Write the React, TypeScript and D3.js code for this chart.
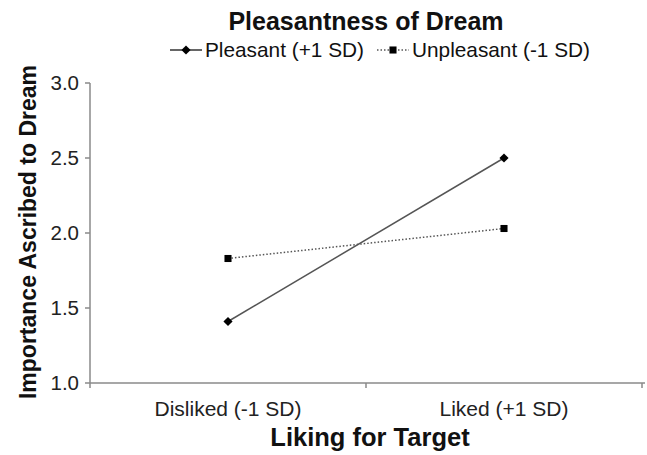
import * as d3 from "d3";

// categories on the x axis
const categories = ["Disliked (-1 SD)", "Liked (+1 SD)"];
// series values (importance ascribed to dream)
const pleasant = [1.41, 2.5];
const unpleasant = [1.83, 2.03];
const yTicks = [1.0, 1.5, 2.0, 2.5, 3.0];
const seriesNames = ["Pleasant (+1 SD)", "Unpleasant (-1 SD)"];

const W = 647;
const H = 455;
const FONT = "Liberation Sans, Arial, Helvetica, sans-serif";
const AXIS = "#8a8a8a";

const App = () => {
  const x = d3.scaleBand<string>().domain(categories).range([90, 642]).padding(0);
  const y = d3.scaleLinear().domain([1, 3]).range([383, 83]);
  const cx = (c: string) => (x(c) ?? 0) + x.bandwidth() / 2;

  const line = d3
    .line<number>()
    .x((_, i) => cx(categories[i]))
    .y((d) => y(d));

  // diamond = square turned 45 degrees (d3's diamond is too tall)
  const diamond = d3.symbol(d3.symbolSquare, 42)()!;
  const square = d3.symbol(d3.symbolSquare, 50)()!;

  // boundaries between bands get a small tick
  const xTickPos = [x.range()[0], ...categories.map((c) => (x(c) ?? 0) + x.bandwidth())];

  return (
    <svg
      width={W}
      height={H}
      style={{ position: "absolute", left: 0, top: 0, background: "#fff" }}
      fontFamily={FONT}
    >
      <rect width={W} height={H} fill="#fff" />
      {/* title */}
      <text x={366} y={30} textAnchor="middle" fontSize={25} fontWeight="bold" fill="#111">
        Pleasantness of Dream
      </text>

      {/* legend */}
      <g>
        <line x1={170} x2={202} y1={50} y2={50} stroke="#333" strokeWidth={1.5} />
        <path d={diamond} transform="translate(186,50) rotate(45)" fill="#000" />
        <text x={205} y={57} fontSize={20.8} fill="#111">
          {seriesNames[0]}
        </text>
        <line
          x1={377}
          x2={409}
          y1={50}
          y2={50}
          stroke="#555"
          strokeWidth={1.5}
          strokeDasharray="1.5,2"
        />
        <path d={square} transform="translate(393,50)" fill="#000" />
        <text x={412} y={57} fontSize={20.8} fill="#111">
          {seriesNames[1]}
        </text>
      </g>

      {/* y axis */}
      <line x1={90} x2={90} y1={y(3)} y2={y(1)} stroke={AXIS} strokeWidth={1.5} />
      {yTicks.map((t) => (
        <g key={t}>
          <line x1={85} x2={90} y1={y(t)} y2={y(t)} stroke={AXIS} strokeWidth={1.5} />
          <text x={79} y={y(t)} dy="0.35em" textAnchor="end" fontSize={20.5} fill="#222">
            {d3.format(".1f")(t)}
          </text>
        </g>
      ))}
      <text
        transform={`translate(36,232) rotate(-90)`}
        textAnchor="middle"
        fontSize={23}
        fontWeight="bold"
        fill="#111"
      >
        Importance Ascribed to Dream
      </text>

      {/* x axis */}
      <line x1={90} x2={645} y1={y(1)} y2={y(1)} stroke={AXIS} strokeWidth={1.5} />
      {xTickPos.map((p, i) => (
        <line key={i} x1={p} x2={p} y1={y(1)} y2={y(1) + 5} stroke={AXIS} strokeWidth={1.5} />
      ))}
      {categories.map((c) => (
        <text key={c} x={cx(c)} y={416} textAnchor="middle" fontSize={21} fill="#222">
          {c}
        </text>
      ))}
      <text x={370} y={446} textAnchor="middle" fontSize={25.5} fontWeight="bold" fill="#111">
        Liking for Target
      </text>

      {/* series */}
      <path d={line(unpleasant) ?? ""} fill="none" stroke="#555" strokeWidth={1.5} strokeDasharray="1.5,2" />
      <path d={line(pleasant) ?? ""} fill="none" stroke="#555" strokeWidth={1.5} />
      {pleasant.map((v, i) => (
        <path
          key={"p" + i}
          d={diamond}
          transform={`translate(${cx(categories[i])},${y(v)}) rotate(45)`}
          fill="#000"
        />
      ))}
      {unpleasant.map((v, i) => (
        <path key={"u" + i} d={square} transform={`translate(${cx(categories[i])},${y(v)})`} fill="#000" />
      ))}
    </svg>
  );
};

export default App;
